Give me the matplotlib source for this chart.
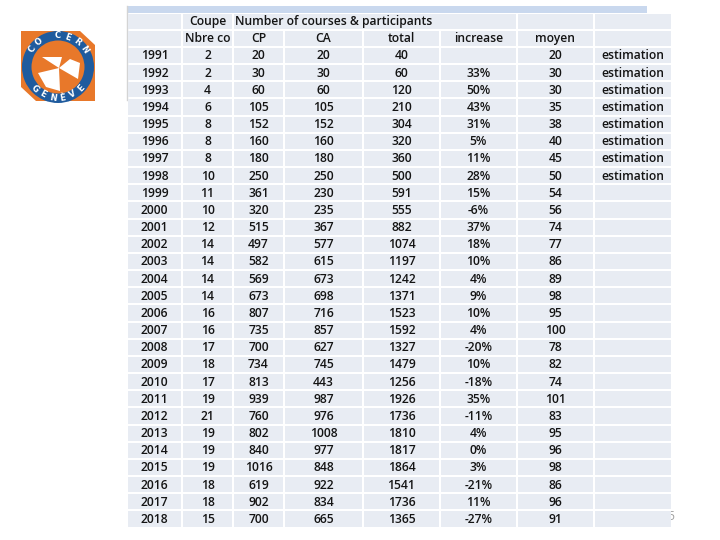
import numpy as np
import matplotlib
matplotlib.use("Agg")
import matplotlib.pyplot as plt
from matplotlib.patches import Rectangle, Wedge, Circle, Polygon

# table data
years = list(range(1991, 2019))
coupe = [2, 2, 4, 6, 8, 8, 8, 10, 11, 10, 12, 14, 14, 14, 14, 16, 16, 17, 18, 17,
         19, 21, 19, 19, 19, 18, 18, 15]
cp = [20, 30, 60, 105, 152, 160, 180, 250, 361, 320, 515, 497, 582, 569, 673, 807,
      735, 700, 734, 813, 939, 760, 802, 840, 1016, 619, 902, 700]
ca = [20, 30, 60, 105, 152, 160, 180, 250, 230, 235, 367, 577, 615, 673, 698, 716,
      857, 627, 745, 443, 987, 976, 1008, 977, 848, 922, 834, 665]
total = [40, 60, 120, 210, 304, 320, 360, 500, 591, 555, 882, 1074, 1197, 1242, 1371,
         1523, 1592, 1327, 1479, 1256, 1926, 1736, 1810, 1817, 1864, 1541, 1736, 1365]
increase = ["", "33%", "50%", "43%", "31%", "5%", "11%", "28%", "15%", "-6%", "37%",
            "18%", "10%", "4%", "9%", "10%", "4%", "-20%", "10%", "-18%", "35%",
            "-11%", "4%", "0%", "3%", "-21%", "11%", "-27%"]
moyen = [20, 30, 30, 35, 38, 40, 45, 50, 54, 56, 74, 77, 86, 89, 98, 95, 100, 78, 82,
         74, 101, 83, 95, 96, 98, 86, 96, 91]
note = ["estimation"] * 8 + [""] * 20

header1 = ["", "Coupe", "Number of courses & participants", "", ""]
header2 = ["", "Nbre co", "CP", "CA", "total", "increase", "moyen", ""]

# layout (pixels)
col_edges = [(128, 181), (183, 232), (234, 283), (285, 362), (364, 439),
             (441, 516), (518, 593), (595, 671)]
top, bottom = 13.5, 528.5
n_rows = 2 + len(years)
row_h = (bottom - top) / n_rows
cell_color = "#e8ecf3"
text_color = "#141414"
font = "Open Sans"
fs = 8.7
weight = "semibold"

fig = plt.figure(figsize=(7.2, 5.4), dpi=100)
ax = fig.add_axes([0, 0, 1, 1])
ax.set_xlim(0, 720)
ax.set_ylim(540, 0)
ax.axis("off")

# light blue bar above table and thin grey line left
ax.add_patch(Rectangle((127, 6), 520, 6.5, color="#c9d8ee", lw=0, zorder=1))
ax.plot([127, 127], [6, 100], color="#d4d4d4", lw=1, zorder=1)

# page number, partly hidden behind the table
ax.text(671, 516, "5", ha="center", va="center", fontsize=fs, color="#a0a0a0",
        family=font, zorder=0)


def cell(c0, c1, r, txt="", ha="center"):
    y0 = top + r * row_h
    ax.add_patch(Rectangle((c0, y0), c1 - c0, row_h - 2, color=cell_color, lw=0, zorder=2))
    if txt != "":
        x = (c0 + c1) / 2 if ha == "center" else c0 + 1
        ax.text(x, y0 + (row_h - 2) / 2 + 0.5, str(txt), ha=ha, va="center",
                fontsize=fs, color=text_color, family=font, fontweight=weight, zorder=3)


# header row 1
cell(*col_edges[0], 0)
cell(*col_edges[1], 0, header1[1])
cell(col_edges[2][0], col_edges[5][1], 0, header1[2], ha="left")
cell(*col_edges[6], 0)
cell(*col_edges[7], 0)

# header row 2
for j, h in enumerate(header2):
    cell(*col_edges[j], 1, h)

# data rows
for i in range(len(years)):
    vals = [years[i], coupe[i], cp[i], ca[i], total[i], increase[i], moyen[i], note[i]]
    for j, v in enumerate(vals):
        cell(*col_edges[j], i + 2, v)

# logo
cx, cy = 58, 67
orange = "#e8782a"
ax.add_patch(Rectangle((21, 31), 74, 70, color=orange, lw=0, zorder=1))
ax.add_patch(Polygon([(95, 31), (80, 31), (95, 45)], color="white", lw=0, zorder=1.1))
ax.add_patch(Polygon([(21, 101), (36, 101), (21, 87)], color="white", lw=0, zorder=1.1))
ax.add_patch(Circle((cx, cy), 28, color=orange, lw=0, zorder=1.2))
white_parts = [
    [(cx - 16, cy - 10), (cx + 4, cy - 10), (cx + 1, cy + 1)],
    [(cx - 20, cy + 6), (cx + 1, cy + 1), (cx + 2, cy + 24), (cx - 12, cy + 20)],
    [(cx + 1, cy + 1), (cx + 12, cy - 8), (cx + 22, cy - 4), (cx + 20, cy + 12)],
]
for poly in white_parts:
    ax.add_patch(Polygon(poly, color="white", lw=0, zorder=1.3))
ax.add_patch(Wedge((cx, cy), 36, 0, 360, width=9.5, color="#1f5b9e", lw=0, zorder=1.4))

r_txt = 31.3
for k, ch in enumerate("CO CERN"):
    th = np.deg2rad(146 - k * 18.7)
    ax.text(cx + r_txt * np.cos(th), cy - r_txt * np.sin(th), ch, color="white",
            fontsize=6, fontweight="bold", family="DejaVu Sans", ha="center",
            va="center", rotation=np.rad2deg(th) - 90, zorder=1.5)
for k, ch in enumerate("GENÈVE"):
    th = np.deg2rad(223 + k * 18.8)
    ax.text(cx + r_txt * np.cos(th), cy - r_txt * np.sin(th), ch, color="white",
            fontsize=6, fontweight="bold", family="DejaVu Sans", ha="center",
            va="center", rotation=np.rad2deg(th) + 90, zorder=1.5)

fig.savefig("out.png", dpi=100)
